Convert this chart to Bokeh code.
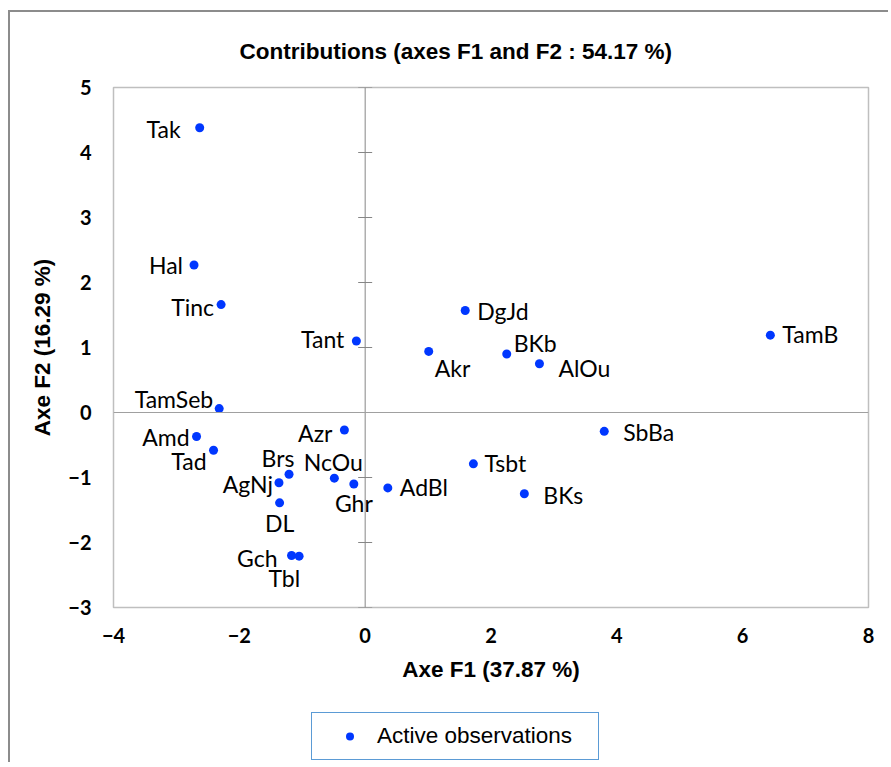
from bokeh.plotting import figure
from bokeh.layouts import column
from bokeh.models import ColumnDataSource, Range1d, FixedTicker, Span, Legend, LegendItem
from bokeh.embed import file_html
from bokeh.resources import INLINE
from bokeh.core.properties import value

# ---- data ----
names = ["Tak", "Hal", "Tinc", "Tant", "TamSeb", "Amd", "Tad", "Azr", "Brs", "AgNj",
         "NcOu", "Ghr", "DL", "Gch", "Tbl", "AdBl", "DgJd", "Akr", "BKb", "AlOu",
         "TamB", "SbBa", "Tsbt", "BKs"]
f1 = [-2.63, -2.72, -2.29, -0.14, -2.32, -2.68, -2.41, -0.33, -1.21, -1.37,
      -0.49, -0.18, -1.36, -1.17, -1.05, 0.36, 1.59, 1.01, 2.25, 2.77,
      6.44, 3.80, 1.72, 2.53]
f2 = [4.38, 2.27, 1.66, 1.10, 0.06, -0.37, -0.58, -0.27, -0.95, -1.08,
      -1.01, -1.10, -1.39, -2.20, -2.21, -1.16, 1.57, 0.94, 0.90, 0.75,
      1.19, -0.29, -0.79, -1.25]
x_ticks = [-4, -2, 0, 2, 4, 6, 8]
y_ticks = [-3, -2, -1, 0, 1, 2, 3, 4, 5]
legend_text = "Active observations"

# ---- label placement (style) ----
label_align = ["right", "right", "right", "right", "right", "right", "right", "right", "center", "right",
               "center", "center", "center", "right", "right", "left", "left", "left", "left", "left",
               "left", "left", "left", "left"]
label_dx = [-19, -11, -7, -12, -6, -7, -7, -12, -11, -6,
            -1, 0, 0, -14, 1, 12, 12, 6, 7, 19,
            12, 19, 11, 19]
label_dy = [1, 0, 2, -2, -10, 0, 11, 3, -16, 1,
            -16, 19, 20, 2, 22, -1, 1, 17, -11, 4,
            -1, 1, -1, 1]

src = ColumnDataSource(dict(f1=f1, f2=f2, names=names, align=label_align,
                            dx=label_dx, dy=label_dy))

POINT_COLOR = "#0037FF"

p = figure(width=878, height=688, output_backend="svg", toolbar_location=None,
           x_range=Range1d(-4, 8), y_range=Range1d(-3, 5),
           min_border_left=103, min_border_right=20, min_border_top=74,
           min_border_bottom=93)
p.grid.visible = False
p.outline_line_color = "#BFBFBF"
p.outline_line_width = 1.5
p.background_fill_color = "white"
p.border_fill_color = "white"

p.title.text = "Contributions (axes F1 and F2 : 54.17 %)"
p.title.text_font = "Liberation Sans"
p.title.text_font_size = "22.5px"
p.title.text_font_style = "bold"
p.title.text_color = "black"
p.title.align = "left"
p.title.offset = 126
p.title.standoff = 48

for ax in (p.xaxis[0], p.yaxis[0]):
    ax.axis_line_color = None
    ax.major_tick_line_color = None
    ax.minor_tick_line_color = None
    ax.major_label_text_font = "Lato"
    ax.major_label_text_font_style = "bold"
    ax.major_label_text_font_size = "20px"
    ax.major_label_text_color = "black"
    ax.axis_label_text_font = "Liberation Sans"
    ax.axis_label_text_font_style = "bold"
    ax.axis_label_text_font_size = "22.5px"
    ax.axis_label_text_color = "black"

p.xaxis.ticker = FixedTicker(ticks=x_ticks)
p.yaxis.ticker = FixedTicker(ticks=y_ticks)
p.xaxis.axis_label = "Axe F1 (37.87 %)"
p.yaxis.axis_label = "Axe F2 (16.29 %)"
p.xaxis.major_label_standoff = 14
p.yaxis.major_label_standoff = 16
p.xaxis.axis_label_standoff = 11
p.yaxis.axis_label_standoff = 10

p.add_layout(Span(location=0, dimension="height", line_color="#868686", line_width=1))
p.add_layout(Span(location=0, dimension="width", line_color="#A0A0A0", line_width=1.2))
p.scatter(x=[0] * len(y_ticks), y=y_ticks, marker="dash", size=14,
          line_color="#868686", line_width=1)

p.scatter(x="f1", y="f2", source=src, size=9, fill_color=POINT_COLOR,
          line_color=None)
p.text(x="f1", y="f2", text="names", source=src, x_offset="dx", y_offset="dy",
       text_align="align", text_baseline="middle", text_font=value("Lato"),
       text_font_size="23px", text_color="black")

# ---- legend strip (separate figure below the chart) ----
lf = figure(width=878, height=62, output_backend="svg", toolbar_location=None,
            x_axis_location=None, y_axis_location=None, min_border=0,
            x_range=Range1d(-4, 8), y_range=Range1d(-3, 5))
lf.grid.visible = False
lf.outline_line_color = None
lf.background_fill_color = "white"
lf.border_fill_color = "white"
lf.title.visible = False
swatch = lf.scatter(x="f1", y="f2", source=src, size=9, fill_color=POINT_COLOR,
                    line_color=None, visible=False)

lg = Legend(items=[LegendItem(label=legend_text, renderers=[swatch])],
            location=(198, 2))
lg.border_line_color = "#5B9BD5"
lg.border_line_alpha = 1
lg.border_line_width = 1.5
lg.inactive_fill_alpha = 0
lg.padding = 10
lg.margin = 0
lg.spacing = 0
lg.glyph_width = 55
lg.glyph_height = 20
lg.label_standoff = 0
lg.label_width = 211
lg.label_text_font = "Liberation Sans"
lg.label_text_font_size = "22.5px"
lg.label_text_color = "black"
lg.background_fill_alpha = 1
lf.add_layout(lg)

layout = column(p, lf, spacing=0,
                styles={"margin-left": "8px", "margin-top": "10px",
                        "border-left": "2px solid #8C8C8C",
                        "border-top": "2px solid #8C8C8C"})

open("out.html", "w").write(file_html(layout, INLINE))
